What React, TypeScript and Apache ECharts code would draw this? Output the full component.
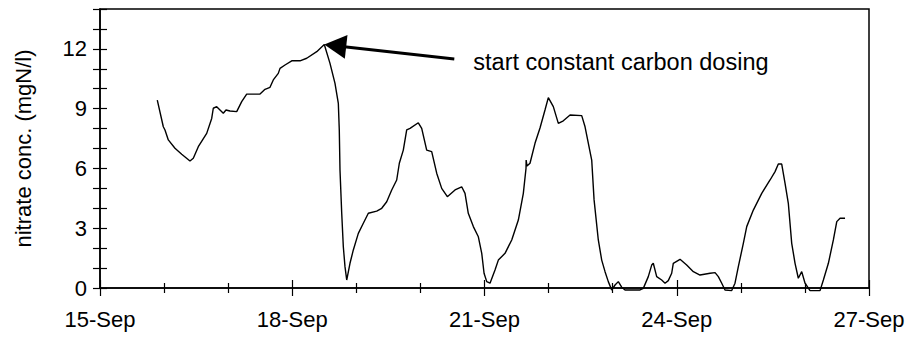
import React, { useEffect, useRef } from 'react';
import * as echarts from 'echarts';

// Tick labels on the time axis (one every 3 days, starting 15-Sep)
const dayTickLabels = ['15-Sep', '18-Sep', '21-Sep', '24-Sep', '27-Sep'];

// Time in days since 15-Sep 00:00
const days = [
  0.894, 0.988, 1.014, 1.066, 1.17, 1.275, 1.404, 1.456, 1.534, 1.665,
  1.743, 1.768, 1.821, 1.924, 1.966, 2.029, 2.133, 2.211, 2.289, 2.497,
  2.575, 2.653, 2.704, 2.782, 2.809, 2.887, 2.992, 3.121, 3.226, 3.382,
  3.5, 3.589, 3.667, 3.719, 3.734, 3.745, 3.772, 3.797, 3.823, 3.85,
  3.901, 3.953, 4.031, 4.109, 4.187, 4.318, 4.396, 4.474, 4.552, 4.63,
  4.671, 4.733, 4.786, 4.838, 4.967, 5.02, 5.098, 5.176, 5.254, 5.332,
  5.42, 5.54, 5.644, 5.696, 5.747, 5.826, 5.904, 5.957, 5.993, 6.035,
  6.086, 6.164, 6.216, 6.32, 6.425, 6.528, 6.606, 6.648, 6.65, 6.663,
  6.71, 6.788, 6.866, 6.944, 6.996, 7.074, 7.152, 7.23, 7.335, 7.517,
  7.569, 7.673, 7.71, 7.776, 7.829, 7.881, 7.932, 7.985, 8.037, 8.088,
  8.141, 8.193, 8.427, 8.478, 8.556, 8.609, 8.634, 8.687, 8.765, 8.817,
  8.868, 8.921, 8.946, 9.051, 9.155, 9.259, 9.363, 9.52, 9.598, 9.649,
  9.702, 9.753, 9.858, 9.909, 9.961, 10.039, 10.092, 10.195, 10.326, 10.456,
  10.534, 10.585, 10.638, 10.69, 10.741, 10.794, 10.846, 10.897, 10.95, 11.002,
  11.08, 11.236, 11.288, 11.366, 11.444, 11.497, 11.548, 11.626,
];

// Nitrate concentration, mgN/l
const nitrate = [
  9.43, 8.09, 7.93, 7.43, 7.01, 6.71, 6.37, 6.51, 7.09, 7.76,
  8.51, 9.02, 9.1, 8.77, 8.93, 8.88, 8.85, 9.35, 9.73, 9.73,
  9.97, 10.07, 10.44, 10.77, 11.02, 11.19, 11.4, 11.4, 11.53, 11.86,
  12.22, 11.27, 10.27, 9.27, 7.93, 5.92, 3.75, 2.07, 1.07, 0.4,
  1.24, 1.91, 2.74, 3.25, 3.75, 3.86, 4.0, 4.33, 4.92, 5.42,
  6.26, 6.92, 7.93, 8.01, 8.29, 8.01, 6.92, 6.84, 5.76, 5.0,
  4.58, 4.92, 5.08, 4.75, 3.75, 3.08, 2.57, 1.74, 0.74, 0.32,
  0.24, 0.9, 1.4, 1.74, 2.41, 3.41, 4.75, 6.01, 6.42, 6.12,
  6.26, 7.26, 8.03, 8.93, 9.55, 9.1, 8.26, 8.39, 8.68, 8.65,
  8.09, 6.42, 4.42, 2.41, 1.4, 0.82, 0.32, -0.1, 0.15, 0.32,
  0.04, -0.1, -0.1, -0.02, 0.57, 1.15, 1.24, 0.57, 0.4, 0.24,
  0.37, 0.74, 1.24, 1.44, 1.15, 0.82, 0.65, 0.74, 0.77, 0.57,
  0.24, -0.1, -0.13, 0.24, 1.07, 2.24, 3.08, 3.91, 4.75, 5.42,
  5.84, 6.22, 6.22, 5.25, 4.25, 2.24, 1.24, 0.49, 0.82, 0.24,
  -0.13, -0.13, 0.4, 1.24, 2.41, 3.33, 3.5, 3.5,
];

const yAxisTitle = 'nitrate conc. (mgN/l)';
const annotationText = 'start constant carbon dosing';

const FONT = '"Liberation Sans", Arial, Helvetica, sans-serif';
const INK = '#000';

export default function App() {
  const ref = useRef<HTMLDivElement>(null);

  useEffect(() => {
    if (!ref.current) return;
    const chart = echarts.init(ref.current, null, { renderer: 'svg' });

    const axisLine = { show: true, lineStyle: { color: INK, width: 1.5 } };
    const tickLine = { color: INK, width: 1.2 };

    // Time axis: majors every 3 days, minors every day; ticks cross the
    // axis line, so one copy draws the outer half and one the inner half.
    const xBase = (inside: boolean) => ({
      type: 'value' as const,
      position: 'bottom' as const,
      min: 0,
      max: 12,
      interval: 3,
      axisLine: inside ? { show: false } : axisLine,
      axisTick: { show: true, inside, length: 8, lineStyle: tickLine },
      minorTick: { show: true, splitNumber: 3, length: 5, lineStyle: tickLine },
      splitLine: { show: false },
      minorSplitLine: { show: false },
      axisLabel: inside
        ? { show: false }
        : {
            show: true,
            margin: 20,
            fontSize: 22,
            fontFamily: FONT,
            color: INK,
            formatter: (v: number) => dayTickLabels[Math.round(v / 3)] ?? '',
          },
    });

    const yBase = (inside: boolean) => ({
      type: 'value' as const,
      position: 'left' as const,
      min: 0,
      max: 14,
      interval: 1,
      axisLine: inside ? { show: false } : axisLine,
      axisTick: { show: true, inside, length: 7, lineStyle: tickLine },
      splitLine: { show: false },
      name: inside ? '' : yAxisTitle,
      nameLocation: 'middle' as const,
      nameRotate: 90,
      nameGap: 66,
      nameTextStyle: { fontSize: 22, fontFamily: FONT, color: INK },
      axisLabel: inside
        ? { show: false }
        : {
            show: true,
            margin: 13,
            fontSize: 22,
            fontFamily: FONT,
            color: INK,
            formatter: (v: number) => (v % 3 === 0 && v <= 12 ? String(v) : ''),
          },
    });

    chart.setOption({
      animation: false,
      backgroundColor: '#fff',
      grid: {
        left: 100,
        top: 9,
        right: 41,
        bottom: 52,
        show: true,
        borderColor: INK,
        borderWidth: 1.5,
        backgroundColor: 'transparent',
      },
      xAxis: [xBase(false), xBase(true)],
      yAxis: [yBase(false), yBase(true)],
      series: [
        {
          type: 'line',
          xAxisIndex: 0,
          yAxisIndex: 0,
          data: days.map((d, i) => [d, nitrate[i]]),
          showSymbol: false,
          symbol: 'none',
          clip: false,
          silent: true,
          lineStyle: { color: INK, width: 1.4 },
        },
      ],
    });

    // Arrow pointing at the peak where constant carbon dosing starts
    let peak = 0;
    nitrate.forEach((v, i) => {
      if (v > nitrate[peak]) peak = i;
    });
    const tip = chart.convertToPixel({ gridIndex: 0 }, [days[peak], nitrate[peak]]) as number[];
    const tail = [tip[0] + 130, tip[1] + 14.5];
    const len = Math.hypot(tail[0] - tip[0], tail[1] - tip[1]);
    const ux = (tail[0] - tip[0]) / len;
    const uy = (tail[1] - tip[1]) / len;
    const px = -uy;
    const py = ux;
    const headLen = 22;
    const headHalf = 12;
    const base = [tip[0] + ux * headLen, tip[1] + uy * headLen];

    chart.setOption({
      graphic: [
        {
          type: 'line',
          shape: { x1: base[0] - ux * 2, y1: base[1] - uy * 2, x2: tail[0], y2: tail[1] },
          style: { stroke: INK, lineWidth: 3 },
          silent: true,
        },
        {
          type: 'polygon',
          shape: {
            points: [
              [tip[0], tip[1]],
              [base[0] + px * headHalf, base[1] + py * headHalf],
              [base[0] - px * headHalf, base[1] - py * headHalf],
            ],
          },
          style: { fill: INK },
          silent: true,
        },
        {
          type: 'text',
          x: tail[0] + 19,
          y: tail[1] + 3,
          style: {
            text: annotationText,
            fontSize: 23.5,
            fontFamily: FONT,
            fill: INK,
            textAlign: 'left',
            textVerticalAlign: 'middle',
          },
          silent: true,
        },
      ],
    });

    return () => chart.dispose();
  }, []);

  return (
    <div
      ref={ref}
      style={{ position: 'fixed', left: 0, top: 0, width: 910, height: 340 }}
    />
  );
}
